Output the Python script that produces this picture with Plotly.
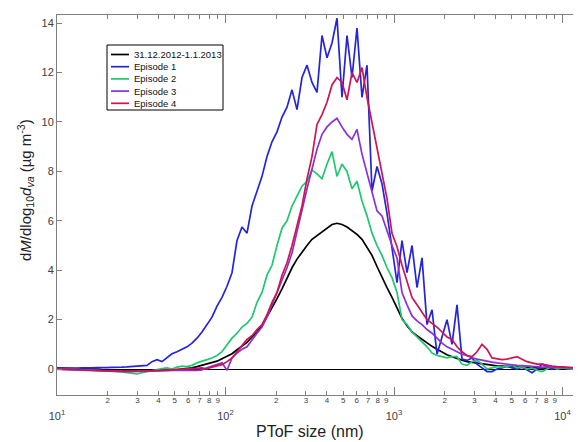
import numpy as np
import plotly.graph_objects as go

# ---------------- data ----------------
# PToF size bins (nm), log-spaced from 10 nm
sizes = np.logspace(1.0, 4.0861, 105)

series_names = ["31.12.2012-1.1.2013", "Episode 1", "Episode 2", "Episode 3", "Episode 4"]
series_colors = ["#000000", "#2424dc", "#1fc86e", "#8a30d8", "#cf1450"]

black = [0.02, 0.02, 0.02, 0.01, 0.01, 0.01, 0.0, 0.0, 0.0, -0.02, -0.03, -0.04, -0.05, -0.05, -0.06,
         -0.06, -0.07, -0.07, -0.07, -0.07, -0.06, -0.06, -0.05, -0.04, -0.02, 0.0, 0.02, 0.05, 0.1, 0.15,
         0.2, 0.26, 0.32, 0.42, 0.52, 0.62, 0.78, 0.92, 1.08, 1.3, 1.5, 1.75, 2.1, 2.5, 2.85,
         3.25, 3.7, 4.1, 4.45, 4.75, 5.0, 5.25, 5.4, 5.55, 5.7, 5.85, 5.9, 5.85, 5.75, 5.6,
         5.45, 5.25, 4.95, 4.6, 4.15, 3.7, 3.3, 2.9, 2.45, 2.05, 1.75, 1.5, 1.35, 1.2, 1.05,
         0.92, 0.8, 0.68, 0.58, 0.5, 0.42, 0.36, 0.3, 0.27, 0.23, 0.2, 0.17, 0.15, 0.13, 0.12,
         0.1, 0.09, 0.08, 0.07, 0.06, 0.06, 0.05, 0.05, 0.04, 0.04, 0.03, 0.03, 0.03, 0.02, 0.02]

episode1 = [0.05, 0.04, 0.05, 0.03, 0.04, 0.05, 0.04, 0.05, 0.06, 0.05, 0.06, 0.07, 0.06, 0.08, 0.09,
            0.1, 0.12, 0.13, 0.15, 0.3, 0.38, 0.3, 0.45, 0.62, 0.7, 0.8, 0.9, 1.05, 1.25, 1.5,
            1.8, 2.1, 2.55, 2.9, 3.35, 3.9, 5.2, 5.75, 5.5, 6.6, 7.2, 7.8, 8.6, 9.2, 9.6,
            10.2, 10.6, 11.3, 10.5, 11.8, 12.3, 11.6, 11.2, 13.5, 12.6, 13.2, 14.2, 11.0, 13.5, 11.8,
            13.8, 11.0, 12.3, 7.2, 8.2, 7.5, 6.3, 4.8, 3.5, 5.2, 3.9, 5.0, 3.3, 4.5, 1.8,
            2.4, 0.6, 1.3, 2.0, 1.0, 2.6, 0.4, 0.35, 0.45, 0.2, 0.05, -0.1, -0.1, 0.0, 0.05,
            0.12, 0.05, 0.0, 0.08, -0.05, -0.15, 0.0, 0.2, 0.1, 0.0, 0.05, 0.08, 0.05, 0.02, 0.05]

episode2 = [0.0, 0.0, -0.01, 0.0, -0.02, -0.02, -0.03, -0.04, -0.05, -0.06, -0.07, -0.08, -0.1, -0.12, -0.15,
            -0.18, -0.2, -0.15, -0.1, -0.05, 0.0, 0.02, 0.05, 0.0, 0.08, 0.12, 0.1, 0.15, 0.25, 0.3,
            0.38, 0.45, 0.55, 0.7, 1.0, 1.25, 1.45, 1.7, 1.85, 2.1, 2.7, 3.1, 3.8, 4.2, 5.0,
            5.7, 6.0, 6.6, 7.0, 7.4, 7.6, 8.05, 7.9, 7.7, 8.3, 8.8, 7.8, 8.3, 8.0, 7.3,
            7.6, 6.8, 6.2, 5.5, 5.0, 4.6, 4.1, 3.7, 3.1, 2.0, 1.8, 1.5, 1.3, 1.1, 0.9,
            0.65, 0.55, 0.5, 0.45, 0.5, 0.5, 0.2, 0.15, 0.3, 0.35, 0.2, 0.0, 0.05, 0.1, 0.08,
            0.1, 0.15, 0.05, 0.1, 0.0, 0.05, -0.05, -0.1, 0.0, 0.1, 0.0, 0.05, 0.02, 0.0, 0.03]

episode3 = [0.0, 0.0, 0.0, -0.01, -0.02, -0.03, -0.04, -0.05, -0.06, -0.06, -0.07, -0.07, -0.08, -0.08, -0.08,
            -0.08, -0.08, -0.07, -0.07, -0.06, -0.06, -0.05, -0.05, -0.06, -0.05, -0.04, -0.06, -0.05, -0.05, -0.03,
            0.05, 0.12, 0.2, 0.25, -0.05, 0.45, 0.65, 0.8, 0.9, 1.2, 1.45, 1.7, 2.1, 2.6, 3.1,
            3.6, 4.1, 4.7, 5.6, 6.4, 7.3, 8.1, 8.9, 9.5, 9.8, 10.0, 10.15, 9.8, 9.5, 9.3,
            9.7, 8.7, 7.9, 7.2, 6.4, 6.2, 5.6, 5.0, 4.5, 3.1, 2.6, 2.15, 1.95, 1.8, 1.6,
            1.45, 1.25, 1.05, 0.9, 0.8, 0.68, 0.6, 0.55, 0.45, 0.4, 0.35, 0.3, 0.28, 0.25, 0.22,
            0.2, 0.18, 0.15, 0.14, 0.12, 0.1, 0.1, 0.08, 0.08, 0.07, 0.06, 0.05, 0.05, 0.04, 0.04]

episode4 = [0.0, 0.0, -0.01, -0.02, -0.03, -0.04, -0.05, -0.06, -0.07, -0.08, -0.09, -0.1, -0.1, -0.1, -0.1,
            -0.1, -0.1, -0.09, -0.08, -0.07, -0.06, -0.05, -0.04, -0.05, -0.03, -0.02, 0.0, 0.02, 0.03, 0.05,
            0.0, 0.08, 0.12, 0.18, 0.3, 0.45, 0.7, 0.95, 1.2, 1.35, 1.6, 1.8, 2.2, 2.7, 3.1,
            3.8, 4.3, 5.0, 5.8, 6.6, 7.7, 8.6, 9.9, 10.3, 10.8, 11.5, 11.8, 11.6, 10.9, 12.0,
            11.6, 12.2, 11.0, 10.0, 9.0, 8.0, 6.9, 5.5, 4.95, 4.2, 3.5, 2.9, 2.6, 2.3, 2.0,
            1.85, 1.7, 1.5, 1.3, 1.2, 0.9, 0.7, 0.55, 0.5, 0.7, 1.0, 0.8, 0.45, 0.4, 0.38,
            0.4, 0.45, 0.5, 0.4, 0.3, 0.25, 0.2, 0.2, 0.15, 0.12, 0.1, 0.08, 0.06, 0.05, 0.05]

series_values = [black, episode1, episode2, episode3, episode4]

y_ticks = [0, 2, 4, 6, 8, 10, 12, 14]
decades = [10, 100, 1000, 10000]
decade_labels = ["10<sup>1</sup>", "10<sup>2</sup>", "10<sup>3</sup>", "10<sup>4</sup>"]
minor_digits = [2, 3, 4, 5, 6, 7, 8, 9]

# ---------------- layout geometry ----------------
# the page body has an 8 px default margin, so the figure is drawn 8 px in
OFF = 8
WIN_W, WIN_H = 581, 442
W, H = WIN_W - OFF, WIN_H - OFF
PL, PR, PT, PB = 57, 580, 15, 395          # plot box in window pixels
ML, MR, MT, MB = PL - OFF, OFF + W - PR, PT - OFF, OFF + H - PB
font_family = "Liberation Sans, Arial, sans-serif"
axis_grey = "#7f7f7f"
text_grey = "#404040"
decade_px = 168.5
line_w = 1.7

def px(xp):
    return (xp - PL) / (PR - PL)
def py(yp):
    return (PB - yp) / (PB - PT)

fig = go.Figure()
for name, color, vals in zip(series_names, series_colors, series_values):
    fig.add_trace(go.Scatter(x=sizes, y=vals, mode="lines", name=name,
                             line=dict(color=color, width=line_w), showlegend=False))

xrange_log = [1, 1 + (PR - PL) / decade_px]

# small digit labels 2..9 with short ticks on the main x axis; decades get long ticks
xtickvals, xticktext = [], []
for d in decades[:-1]:
    for m in minor_digits:
        xtickvals.append(d * m)
        xticktext.append(str(m))

fig.update_xaxes(type="log", range=xrange_log,
                 tickmode="array", tickvals=xtickvals, ticktext=xticktext, tickangle=0,
                 ticks="inside", ticklen=4, tickcolor=axis_grey, tickwidth=1,
                 ticklabelstandoff=-3,
                 minor=dict(tickvals=decades, ticks="inside", ticklen=8, tickcolor=axis_grey),
                 showline=True, linecolor=axis_grey, linewidth=1, mirror="ticks",
                 showgrid=False, zeroline=False, automargin=False,
                 tickfont=dict(size=8, color=text_grey, family=font_family))

fig.update_yaxes(range=[-1.05, 14.33], tickmode="array", tickvals=y_ticks,
                 ticks="inside", ticklen=5, tickcolor=axis_grey,
                 showline=True, linecolor=axis_grey, linewidth=1, mirror="ticks",
                 showgrid=False, zeroline=True, zerolinecolor="#000000", zerolinewidth=1,
                 automargin=False,
                 tickfont=dict(size=11, color=text_grey, family=font_family))

# decade labels (10^n) on an overlaid axis, set further below the axis line
fig.update_layout(xaxis2=dict(type="log", range=xrange_log, overlaying="x", anchor="y", side="bottom",
                              tickmode="array", tickvals=decades, ticktext=decade_labels, tickangle=0,
                              ticks="", showline=False, showgrid=False, zeroline=False,
                              ticklabelstandoff=13, automargin=False,
                              tickfont=dict(size=11, color=text_grey, family=font_family)))
fig.add_trace(go.Scatter(x=[sizes[0]], y=[black[0]], xaxis="x2", mode="lines",
                         line=dict(color=series_colors[0], width=line_w), showlegend=False,
                         hoverinfo="skip"))

# ---------------- manual legend (compact, like the original) ----------------
leg_left, leg_top, leg_right, leg_bottom = 107, 45, 223, 110
first_y, step_y = 54.5, 12.2
line_x0, line_x1, text_x = 111, 129, 132

shapes = [dict(type="rect", xref="paper", yref="paper",
               x0=px(leg_left), x1=px(leg_right), y0=py(leg_bottom), y1=py(leg_top),
               line=dict(color="#000000", width=1), fillcolor="white", layer="above")]
annotations = []
for k, (name, color) in enumerate(zip(series_names, series_colors)):
    yy = py(first_y + k * step_y)
    shapes.append(dict(type="line", xref="paper", yref="paper",
                       x0=px(line_x0), x1=px(line_x1), y0=yy, y1=yy,
                       line=dict(color=color, width=line_w), layer="above"))
    annotations.append(dict(xref="paper", yref="paper", x=px(text_x), y=yy,
                            text=name, showarrow=False, xanchor="left", yanchor="middle",
                            font=dict(size=9.5, color="#111111", family=font_family)))

# axis titles
annotations.append(dict(xref="paper", yref="paper", x=px(310), y=py(431),
                        text="PToF size (nm)", showarrow=False, xanchor="center", yanchor="middle",
                        font=dict(size=16, color="#222222", family=font_family)))
annotations.append(dict(xref="paper", yref="paper", x=px(25), y=py(190), textangle=-90,
                        text="d<i>M</i>/dlog<sub>10</sub><i>d</i><sub><i>va</i></sub> (µg m<sup>-3</sup>)",
                        showarrow=False, xanchor="center", yanchor="middle",
                        font=dict(size=15, color="#222222", family=font_family)))

fig.update_layout(width=W, height=H, margin=dict(l=ML, r=MR, t=MT, b=MB, autoexpand=False),
                  plot_bgcolor="white", paper_bgcolor="white",
                  shapes=shapes, annotations=annotations,
                  font=dict(family=font_family))

fig.write_html("out.html")
